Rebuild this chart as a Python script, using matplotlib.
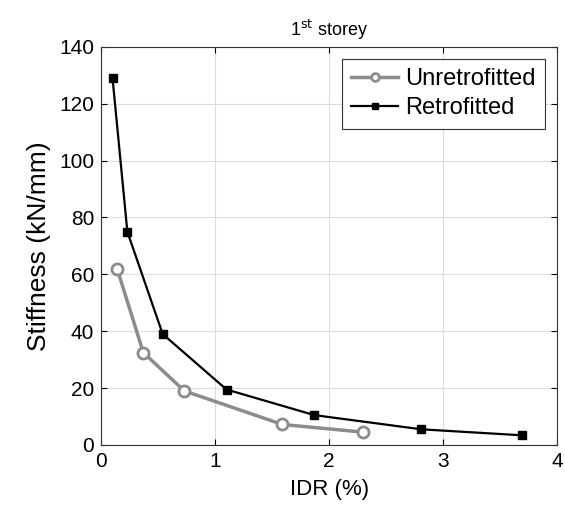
import matplotlib
matplotlib.use('Agg')
import matplotlib.pyplot as plt

# Data #
######################################

idr_unretro = [0.14, 0.37, 0.73, 1.59, 2.30]
stiff_unretro = [62, 32.5, 19, 7.2, 4.5]

idr_retro = [0.10, 0.23, 0.54, 1.10, 1.87, 2.81, 3.69]
stiff_retro = [129, 75, 39, 19.5, 10.5, 5.5, 3.4]

x_ticks = [0, 1, 2, 3, 4]
y_ticks = [0, 20, 40, 60, 80, 100, 120, 140]

plt.rcParams['font.family'] = ['Liberation Sans', 'DejaVu Sans']

fig = plt.figure(figsize=(5.65, 5.15), dpi=100)
ax = fig.add_axes([0.179, 0.136, 0.807, 0.773])

ax.plot(idr_unretro, stiff_unretro, color='#8c8c8c', lw=2.5, marker='o',
        markersize=8, markerfacecolor='white', markeredgecolor='#8c8c8c',
        markeredgewidth=2, label='Unretrofitted')
ax.plot(idr_retro, stiff_retro, color='black', lw=1.6, marker='s',
        markersize=6, markerfacecolor='black', label='Retrofitted')

ax.set_xlim(0, 4)
ax.set_ylim(0, 140)
ax.set_xticks(x_ticks)
ax.set_yticks(y_ticks)
ax.tick_params(direction='in', labelsize=15, top=True, right=True, length=4, pad=5)
ax.grid(True, color='#dcdcdc', lw=0.8)
ax.set_axisbelow(True)
for sp in ax.spines.values():
    sp.set_color('#333333')

ax.set_xlabel('IDR (%)', fontsize=16, labelpad=6)
ax.set_ylabel('Stiffness (kN/mm)', fontsize=19, labelpad=6)
ax.set_title('1$^{\\mathrm{st}}$ storey', fontsize=13, pad=8)

leg = ax.legend(loc='upper right', fontsize=17, fancybox=False, framealpha=1,
                edgecolor='#333333', handlelength=2.0, borderaxespad=0.5,
                markerscale=0.7, borderpad=0.4, labelspacing=0.3, handletextpad=0.3)
leg.get_frame().set_linewidth(0.8)

fig.savefig('out.png', dpi=100)
